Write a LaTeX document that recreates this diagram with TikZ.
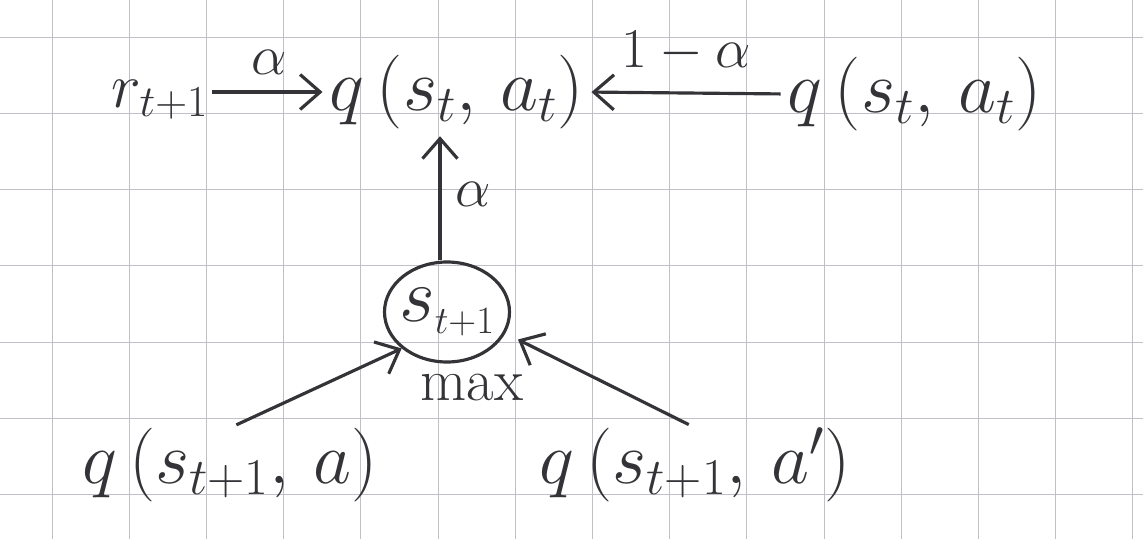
\RequirePackage{fix-cm}
\documentclass[tikz,border=0pt]{standalone}
\usepackage{tikz}
\usetikzlibrary{positioning,arrows.meta,shapes.geometric}
\definecolor{inkgray}{RGB}{52,52,56}
\definecolor{gridgray}{RGB}{192,192,200}

\begin{document}
\begin{tikzpicture}[x=0.2mm, y=-0.2mm,
  grid/.style={gridgray, line width=0.5pt},
  term/.style={inner sep=0pt, font=\fontsize{42}{46}\selectfont, text=inkgray},
  lbl/.style={inner sep=0pt, font=\fontsize{32}{36}\selectfont, text=inkgray},
  state/.style={ellipse, draw=inkgray, line width=1.8pt, inner xsep=-3mm, inner ysep=-1mm, minimum width=25mm, minimum height=20mm, font=\fontsize{44}{48}\selectfont, text=inkgray},
  arrow/.style={-{Straight Barb[length=4mm, width=7mm]}, line width=1.8pt, inkgray}
]
  \useasboundingbox[fill=white] (0,0) rectangle (1143,539);

  % squared paper
  \foreach \i in {0,...,14}
    \draw[grid] ({52+77.2*\i},0) -- ({52+77.2*\i},539);
  \foreach \j in {0,...,6}
    \draw[grid] (0,{37+76.3*\j}) -- (1143,{37+76.3*\j});

  \node[term, font=\fontsize{36}{40}\selectfont] (rew) at (160,100) {$r_{t+1}$};
  \node[term] (qnew) at (457,92) {$q\,(s_t,\, a_t)$};
  \node[term] (qold) at (915,94) {$q\,(s_t,\, a_t)$};
  \node[state] (nxt) at (447,312) {$s_{\scriptscriptstyle t+1}$};
  \node[lbl, font=\fontsize{34}{38}\selectfont] (mx) at (472,388) {max};
  \node[term] (qa) at (230,465) {$q\,(s_{t+1},\, a)$};
  \node[term] (qb) at (695,465) {$q\,(s_{t+1},\, a')$};

  \draw[arrow, shorten <=2pt, shorten >=4pt] (rew.east |- qnew.west) -- (qnew.west) node[lbl, midway, above=9pt] {$\alpha$};
  \draw[arrow, shorten <=4pt, shorten >=4pt] (qold.west) -- (qnew.east) node[lbl, midway, above=11pt] {$1-\alpha$};
  \draw[arrow, shorten >=4pt] (nxt.north -| 440,0) -- (qnew.south -| 440,0) node[lbl, midway, right=8pt] {$\alpha$};
  \draw[arrow, shorten <=4pt] (qa.north) -- (nxt.south west);
  \draw[arrow, shorten <=4pt, shorten >=8pt] (qb.north) -- (nxt.-20);
\end{tikzpicture}
\end{document}
